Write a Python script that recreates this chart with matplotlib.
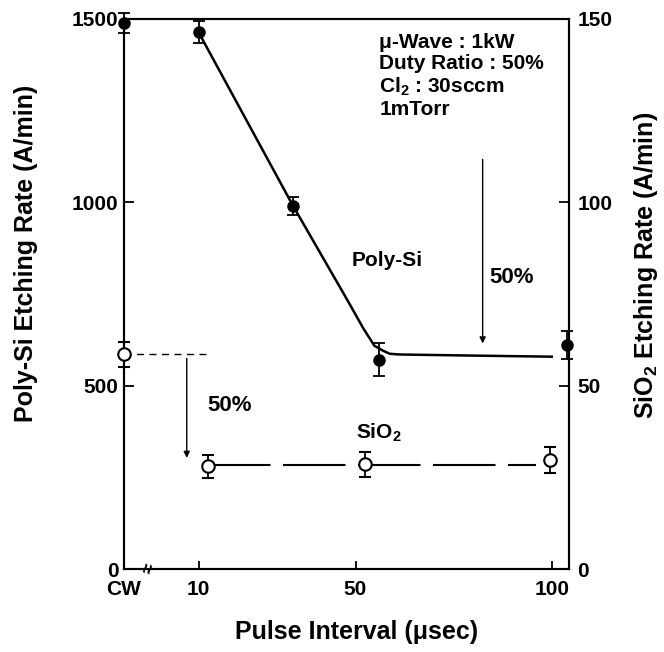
import matplotlib.pyplot as plt

plt.rcParams['font.family'] = ['Liberation Sans', 'DejaVu Sans']
plt.rcParams['font.weight'] = 'bold'
plt.rcParams['mathtext.fontset'] = 'custom'
plt.rcParams['mathtext.rm'] = 'Liberation Sans:bold'
plt.rcParams['mathtext.it'] = 'Liberation Sans:bold'
plt.rcParams['mathtext.bf'] = 'Liberation Sans:bold'

# Poly-Si etching rate (left axis, A/min); x = -9 stands for CW
poly_x = [-9, 10, 34, 56, 104]
poly_y = [1490, 1465, 990, 570, 612]
poly_err = [27, 30, 25, 45, 38]

# hand drawn guide through the Poly-Si points
poly_fit_x = [10, 34, 48, 52, 54.8, 56.9, 58.7, 61.2, 80, 100]
poly_fit_y = [1464, 992, 732, 656, 609, 596, 587, 585, 582, 579]

# SiO2 etching rate (right axis, A/min)
sio2_x = [-9, 12.5, 52.5, 99.5]
sio2_y = [58.5, 28, 28.5, 29.8]
sio2_err = [3.5, 3.2, 3.5, 3.5]

sio2_fit_x = [12.5, 96]
sio2_fit_y = [28.4, 28.4]
sio2_cw_x = [-9, 12.6]
sio2_cw_y = [58.5, 58.5]

xticks = [-9, 10, 50, 100]
xtick_labels = ['CW', '10', '50', '100']
left_ticks = [0, 500, 1000, 1500]
right_ticks = [0, 50, 100, 150]

conditions = 'μ-Wave : 1kW\nDuty Ratio : 50%\nCl$_2$ : 30sccm\n1mTorr'

fig = plt.figure(figsize=(6.64, 6.52), dpi=100)
ax = fig.add_axes([0.1867, 0.1273, 0.6702, 0.8436])
ax2 = ax.twinx()

ax.set_xlim(-9, 104.4)
ax.set_ylim(0, 1500)
ax2.set_ylim(0, 150)

# Poly-Si
ax.plot(poly_fit_x, poly_fit_y, color='black', lw=1.8, zorder=2)
ax.errorbar(poly_x, poly_y, yerr=poly_err, fmt='o', color='black', ms=8,
            elinewidth=1.3, capsize=4, capthick=1.3, clip_on=False, zorder=3)

# SiO2
ax2.plot(sio2_fit_x, sio2_fit_y, color='black', lw=1.5,
         linestyle=(0, (30, 6)), zorder=2)
ax2.plot(sio2_cw_x, sio2_cw_y, color='black', lw=1.0,
         linestyle=(0, (5, 4)), zorder=2)
ax2.errorbar(sio2_x, sio2_y, yerr=sio2_err, fmt='o', color='black', mfc='white',
             mec='black', mew=1.5, ms=9, elinewidth=1.3, capsize=4,
             capthick=1.3, clip_on=False, zorder=3)

# 50% arrows
ax2.annotate('', xy=(7, 30.3), xytext=(7, 57.4),
             arrowprops=dict(arrowstyle='-|>', color='black', lw=1.0,
                             mutation_scale=9, shrinkA=0, shrinkB=0))
ax.annotate('', xy=(82.4, 615), xytext=(82.4, 1117),
            arrowprops=dict(arrowstyle='-|>', color='black', lw=1.0,
                            mutation_scale=9, shrinkA=0, shrinkB=0))

ax.text(12.3, 445, '50%', fontsize=16, ha='left', va='center')
ax.text(84, 795, '50%', fontsize=16, ha='left', va='center')
ax.text(49, 842, 'Poly-Si', fontsize=15, ha='left', va='center')
ax.text(56, 370, 'SiO$_2$', fontsize=15, ha='center', va='center')
ax.text(56.1, 1462, conditions, fontsize=15, ha='left', va='top',
        linespacing=1.15)

# axis break mark
ax.text(-2.5, 0, '≈', fontsize=13, rotation=75, ha='center', va='center',
        clip_on=False)

for s in ax.spines.values():
    s.set_linewidth(1.5)
for s in ax2.spines.values():
    s.set_linewidth(1.5)

ax.set_xticks(xticks)
ax.set_xticklabels(xtick_labels)
ax.set_yticks(left_ticks)
ax2.set_yticks(right_ticks)
ax.tick_params(axis='x', direction='in', length=6, width=1.3, labelsize=15, pad=8)
ax.tick_params(axis='y', direction='in', length=7, width=1.3, labelsize=15, pad=4)
ax2.tick_params(axis='y', direction='in', length=7, width=1.3, labelsize=15, pad=6)
ax.xaxis.get_major_ticks()[0].tick1line.set_visible(False)

fig.text(357 / 664, 1 - 632 / 652, 'Pulse Interval (μsec)', fontsize=18,
         ha='center', va='center')
fig.text(26 / 664, 1 - 253 / 652, 'Poly-Si Etching Rate (A/min)', fontsize=18,
         rotation=90, ha='center', va='center')
fig.text(646 / 664, 1 - 265 / 652, 'SiO$_2$ Etching Rate (A/min)', fontsize=18,
         rotation=90, ha='center', va='center')

fig.savefig('out.png', dpi=100)
